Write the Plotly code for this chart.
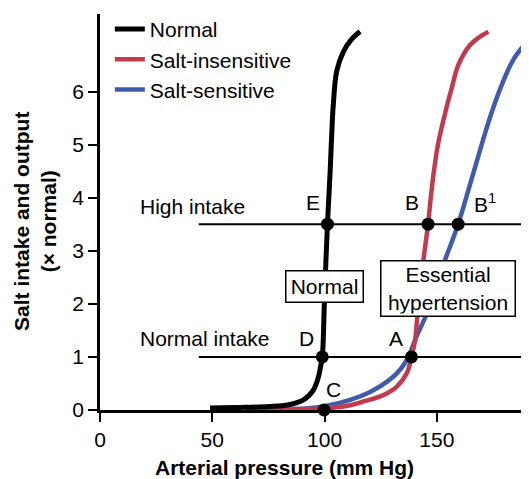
import plotly.graph_objects as go

# ---- data ----
normal_x = [49, 65, 75.7, 84, 90.6, 95, 97.3, 98.2, 99.0, 99.9, 100.6, 101.3, 101.9,
            102.5, 103.2, 103.9, 105.4, 108.4, 112, 115.8]
normal_y = [0.04, 0.05, 0.065, 0.1, 0.19, 0.375, 0.625, 0.81, 1.0, 2.0, 2.8, 3.5, 4.0,
            4.5, 5.2, 5.75, 6.38, 6.75, 6.98, 7.13]

insens_x = [70, 90, 100, 111.4, 117.3, 126.2, 132.2, 136.6, 138.7, 140.3, 141.3, 142.8,
            144.0, 146.1, 147.3, 148.7, 150.5, 153.5, 156.6, 159.6, 164.8, 168.8, 173.0]
insens_y = [0.02, 0.02, 0.03, 0.09, 0.16, 0.28, 0.44, 0.69, 1.0, 1.31, 1.75, 2.3,
            2.81, 3.5, 4.0, 4.5, 5.0, 5.56, 6.06, 6.5, 6.875, 7.02, 7.125]

sens_x = [65, 82, 92, 100, 111.4, 120.3, 127.7, 132.2, 136.0, 138.3, 141.3, 145.2, 149.3,
          153.7, 159.5, 164.8, 169.3, 173.2, 178.2, 184.1, 190.8]
sens_y = [0.02, 0.02, 0.03, 0.07, 0.19, 0.34, 0.53, 0.69, 0.9, 1.1, 1.42, 1.78, 2.28,
          2.83, 3.5, 4.25, 4.9, 5.45, 6.05, 6.6, 6.97]

intake_levels = [1.0, 3.5]
intake_names = ["Normal intake", "High intake"]
intake_x = [44, 190.6]

point_labels = ["E", "B", "B<sup>1</sup>", "D", "A", "C"]
point_x = [101.3, 146.1, 159.5, 99.0, 138.7, 99.8]
point_y = [3.5, 3.5, 3.5, 1.0, 1.0, 0.0]
label_x = [94.8, 138.9, 171.3, 92.1, 131.7, 103.9]
label_y = [3.9, 3.9, 3.9, 1.34, 1.34, 0.38]

x_ticks = [0, 50, 100, 150]
y_ticks = [0, 1, 2, 3, 4, 5, 6]
x_range = [0, 190.6]
y_range = [0, 7.46]

FONT = "Liberation Sans, Arial, Helvetica, sans-serif"
RED = "#c13b4c"
BLUE = "#3f5bab"

fig = go.Figure()

# intake lines
for lvl in intake_levels:
    fig.add_trace(go.Scatter(x=intake_x, y=[lvl, lvl], mode="lines",
                             line=dict(color="black", width=2), showlegend=False,
                             hoverinfo="skip"))

fig.add_trace(go.Scatter(x=sens_x, y=sens_y, mode="lines", name="Salt-sensitive",
                         line=dict(color=BLUE, width=4.5, shape="spline"), legendrank=3))
fig.add_trace(go.Scatter(x=insens_x, y=insens_y, mode="lines", name="Salt-insensitive",
                         line=dict(color=RED, width=4.5, shape="spline"), legendrank=2))
fig.add_trace(go.Scatter(x=normal_x, y=normal_y, mode="lines", name="Normal",
                         line=dict(color="black", width=5, shape="spline"), legendrank=1))

fig.add_trace(go.Scatter(x=point_x, y=point_y, mode="markers",
                         marker=dict(color="black", size=13), showlegend=False,
                         cliponaxis=False))

ann = []
for t, x, y in zip(point_labels, label_x, label_y):
    ann.append(dict(x=x, y=y, text=t, showarrow=False, xanchor="center", yanchor="middle",
                    font=dict(size=21, color="black", family=FONT)))
for name, lvl in zip(intake_names, intake_levels):
    ann.append(dict(x=16.9, y=lvl + 0.34, text=name, showarrow=False, xanchor="left",
                    yanchor="middle", font=dict(size=21, color="black", family=FONT)))

ann.append(dict(x=100.0, y=2.32, text="Normal", showarrow=False, xanchor="center",
                yanchor="middle", bgcolor="white", bordercolor="black", borderwidth=1.5,
                borderpad=2, width=72, height=26,
                font=dict(size=21, color="black", family=FONT)))
ann.append(dict(x=155.0, y=2.28, text="Essential<br>hypertension", showarrow=False,
                xanchor="center", yanchor="middle", bgcolor="white", bordercolor="black",
                borderwidth=1.5, borderpad=2, width=129, height=50,
                font=dict(size=21, color="black", family=FONT)))

# axis titles
ann.append(dict(xref="paper", yref="paper", x=(284 - 100) / 428, y=(410 - 468) / 398,
                text="<b>Arterial pressure (mm Hg)</b>", showarrow=False,
                xanchor="center", yanchor="middle",
                font=dict(size=21, color="black", family=FONT)))
ann.append(dict(xref="paper", yref="paper", x=(35 - 100) / 428, y=(410 - 221) / 398,
                text="<b>Salt intake and output<br>(× normal)</b>", showarrow=False,
                textangle=-90, xanchor="center", yanchor="middle",
                font=dict(size=21, color="black", family=FONT)))

# the page body adds an 8px offset, so the figure is sized to fit the window
fig.update_layout(
    width=521, height=471,
    margin=dict(l=92, r=1, t=4, b=69),
    paper_bgcolor="white", plot_bgcolor="white",
    font=dict(family=FONT, size=21, color="black"),
    showlegend=True,
    legend=dict(x=0.023, y=1.013, xanchor="left", yanchor="top", bgcolor="rgba(0,0,0,0)",
                font=dict(size=21, color="black", family=FONT), traceorder="normal"),
    annotations=ann,
    xaxis=dict(range=x_range, tickvals=x_ticks, showgrid=False, zeroline=False,
               showline=True, linecolor="black", linewidth=2.5, ticks="outside",
               ticklen=9, tickwidth=2, tickcolor="black",
               tickfont=dict(size=21, color="black", family=FONT)),
    yaxis=dict(range=y_range, tickvals=y_ticks, showgrid=False, zeroline=False,
               showline=True, linecolor="black", linewidth=2.5, ticks="outside",
               ticklen=9, tickwidth=2, tickcolor="black",
               tickfont=dict(size=21, color="black", family=FONT)),
)

fig.write_html("out.html")
